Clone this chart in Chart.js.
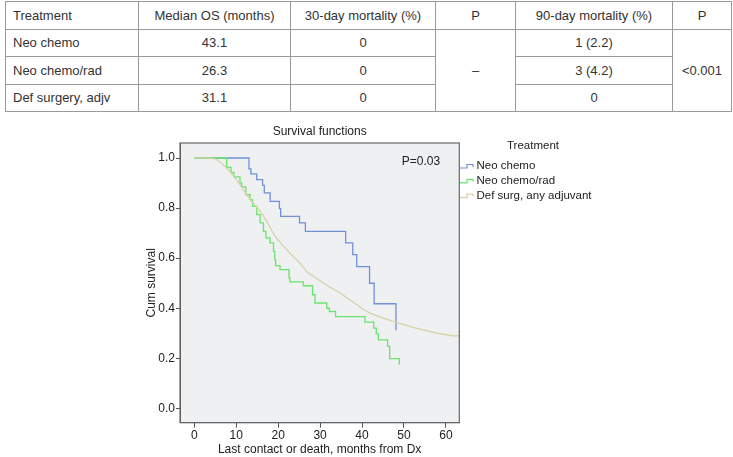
<!DOCTYPE html>
<html lang="en">
<head>
<meta charset="UTF-8" />
<title>Survival functions</title>
<script src="https://cdn.jsdelivr.net/npm/chart.js"></script>
<style>
  body { margin: 0; width: 733px; height: 457px; position: relative; overflow: hidden; background: #fff;
         font-family: "Liberation Sans", Arial, sans-serif; color: #333; }
  #chart { position: absolute; left: 0; top: 0; }
  table { position: absolute; left: 5px; top: 1px; width: 726px; border-collapse: collapse;
          table-layout: fixed; font-size: 13px; }
  tr { height: 27.5px; }
  td { border: 1px solid #9a9a9a; padding: 0 7px; text-align: center; vertical-align: middle; }
  td.name { text-align: left; }
</style>
</head>
<body>
<table>
  <colgroup>
    <col style="width:133px" /><col style="width:152px" /><col style="width:145px" />
    <col style="width:80px" /><col style="width:157px" /><col style="width:59px" />
  </colgroup>
  <tr><td class="name">Treatment</td><td>Median OS (months)</td><td>30-day mortality (%)</td><td>P</td><td>90-day mortality (%)</td><td>P</td></tr>
  <tr><td class="name">Neo chemo</td><td>43.1</td><td>0</td><td rowspan="3">–</td><td>1 (2.2)</td><td rowspan="3">&lt;0.001</td></tr>
  <tr><td class="name">Neo chemo/rad</td><td>26.3</td><td>0</td><td>3 (4.2)</td></tr>
  <tr><td class="name">Def surgery, adjv</td><td>31.1</td><td>0</td><td>0</td></tr>
</table>
<canvas id="chart" width="733" height="457"></canvas>
<script>
  // values
  const treatments = ["Neo chemo", "Neo chemo/rad", "Def surg, any adjuvant"];
  const colors = ["#7090d8", "#6ae46a", "#d6d1a6"];

  const chemoMonths = [0, 13.05, 13.5, 14.9, 16.3, 16.7, 18.1, 20.3, 20.6, 25.1, 26.5, 36.1, 37.8, 38.75, 41.8, 42.9, 48.1];
  const chemoSurv = [1.0, 0.957, 0.937, 0.914, 0.891, 0.861, 0.827, 0.798, 0.767, 0.741, 0.707, 0.661, 0.614, 0.566, 0.5, 0.418, 0.312];

  const radMonths = [0, 7.73, 8.76, 9.47, 10.9, 11.3, 12.3, 13.3, 13.9, 14.9, 15.7, 16.5, 17.1, 18.07, 18.9, 19.2, 19.4, 20.45, 22.6, 22.8, 26.0, 28.2, 28.8, 31.6, 32.2, 33.7, 40.7, 42.8, 43.4, 43.9, 46.1, 46.6, 48.9];
  const radSurv = [1.0, 0.963, 0.943, 0.925, 0.901, 0.885, 0.854, 0.834, 0.807, 0.774, 0.741, 0.707, 0.681, 0.661, 0.627, 0.594, 0.57, 0.554, 0.521, 0.505, 0.49, 0.454, 0.421, 0.4, 0.387, 0.367, 0.345, 0.321, 0.298, 0.274, 0.248, 0.199, 0.174];

  const surgMonths = [0, 4.1, 5.3, 7.7, 9.7, 11.7, 13.7, 15.7, 17.3, 19.3, 22.05, 23.6, 25.2, 26.8, 28.4, 30.8, 32.8, 34.8, 36.8, 38.8, 40.3, 41.9, 43.5, 45.1, 46.7, 48.3, 50, 51.5, 53.1, 54.7, 56.3, 57.9, 60.2, 61.5, 63.2];
  const surgSurv = [1.0, 1.0, 0.994, 0.961, 0.921, 0.874, 0.827, 0.787, 0.747, 0.687, 0.634, 0.607, 0.58, 0.547, 0.528, 0.501, 0.48, 0.461, 0.437, 0.414, 0.396, 0.381, 0.37, 0.361, 0.352, 0.343, 0.335, 0.327, 0.32, 0.314, 0.307, 0.301, 0.294, 0.29, 0.29];

  const xTicks = [0, 10, 20, 30, 40, 50, 60];
  const yTicks = [0, 0.2, 0.4, 0.6, 0.8, 1.0];

  const toPoints = (xs, ys) => xs.map((x, i) => ({ x: x, y: ys[i] }));
  const font = "Liberation Sans, Arial, sans-serif";

  // plot background, frame and the free texts (title, P value, legend, axis titles)
  const decor = {
    id: "decor",
    beforeDraw(chart) {
      const { ctx, chartArea: a } = chart;
      ctx.save();
      ctx.fillStyle = "#eef0f2";
      ctx.fillRect(a.left, a.top, a.width, a.height);
      ctx.restore();
    },
    afterDraw(chart) {
      const { ctx, chartArea: a } = chart;
      ctx.save();
      ctx.strokeStyle = "#666";
      ctx.lineWidth = 1.2;
      ctx.strokeRect(a.left, a.top, a.width, a.height);

      ctx.fillStyle = "#222";
      ctx.font = "12px " + font;
      ctx.textAlign = "center";
      ctx.textBaseline = "middle";
      ctx.fillText("Survival functions", (a.left + a.right) / 2, 132);
      ctx.fillText("P=0.03", 421, 162);
      ctx.fillText("Last contact or death, months from Dx", (a.left + a.right) / 2, 450);

      ctx.save();
      ctx.translate(152, (a.top + a.bottom) / 2);
      ctx.rotate(-Math.PI / 2);
      ctx.fillText("Cum survival", 0, 0);
      ctx.restore();

      // legend
      ctx.font = "11.5px " + font;
      ctx.fillText("Treatment", 533, 146);
      ctx.textAlign = "left";
      treatments.forEach((t, i) => {
        const y = 166 + i * 14.8;
        ctx.strokeStyle = colors[i];
        ctx.lineWidth = 1.2;
        ctx.beginPath();
        ctx.moveTo(460, y + 2);
        ctx.lineTo(467, y + 2);
        ctx.lineTo(467, y - 1.5);
        ctx.lineTo(473, y - 1.5);
        ctx.lineTo(473, y + 1);
        ctx.stroke();
        ctx.fillText(t, 476.5, y);
      });
      ctx.restore();
    }
  };

  new Chart(document.getElementById("chart"), {
    type: "line",
    data: {
      datasets: [
        { label: treatments[0], data: toPoints(chemoMonths, chemoSurv), borderColor: colors[0], stepped: "before", order: 3 },
        { label: treatments[1], data: toPoints(radMonths, radSurv), borderColor: colors[1], stepped: "before", order: 2 },
        { label: treatments[2], data: toPoints(surgMonths, surgSurv), borderColor: colors[2], tension: 0.3, order: 1 }
      ]
    },
    options: {
      responsive: false,
      animation: false,
      events: [],
      elements: { point: { radius: 0 }, line: { borderWidth: 1.3, fill: false } },
      layout: { padding: { left: 150, top: 143, right: 273.7, bottom: 14.3 } },
      plugins: { legend: { display: false }, title: { display: false }, tooltip: { enabled: false } },
      scales: {
        x: {
          type: "linear",
          min: -3.4,
          max: 63.2,
          afterBuildTicks: s => { s.ticks = xTicks.map(v => ({ value: v })); },
          afterFit: s => { s.height = 20; },
          grid: { drawOnChartArea: false, tickLength: 5, color: "#555" },
          border: { color: "#555" },
          ticks: { padding: 1, color: "#222", font: { family: font, size: 12 }, maxRotation: 0 }
        },
        y: {
          min: -0.057,
          max: 1.06,
          afterBuildTicks: s => { s.ticks = yTicks.map(v => ({ value: v })); },
          afterFit: s => { s.width = 30; },
          grid: { drawOnChartArea: false, tickLength: 4, color: "#555" },
          border: { color: "#555" },
          ticks: { padding: 1, color: "#222", font: { family: font, size: 12 }, callback: v => v.toFixed(1) }
        }
      }
    },
    plugins: [decor]
  });
</script>
</body>
</html>
